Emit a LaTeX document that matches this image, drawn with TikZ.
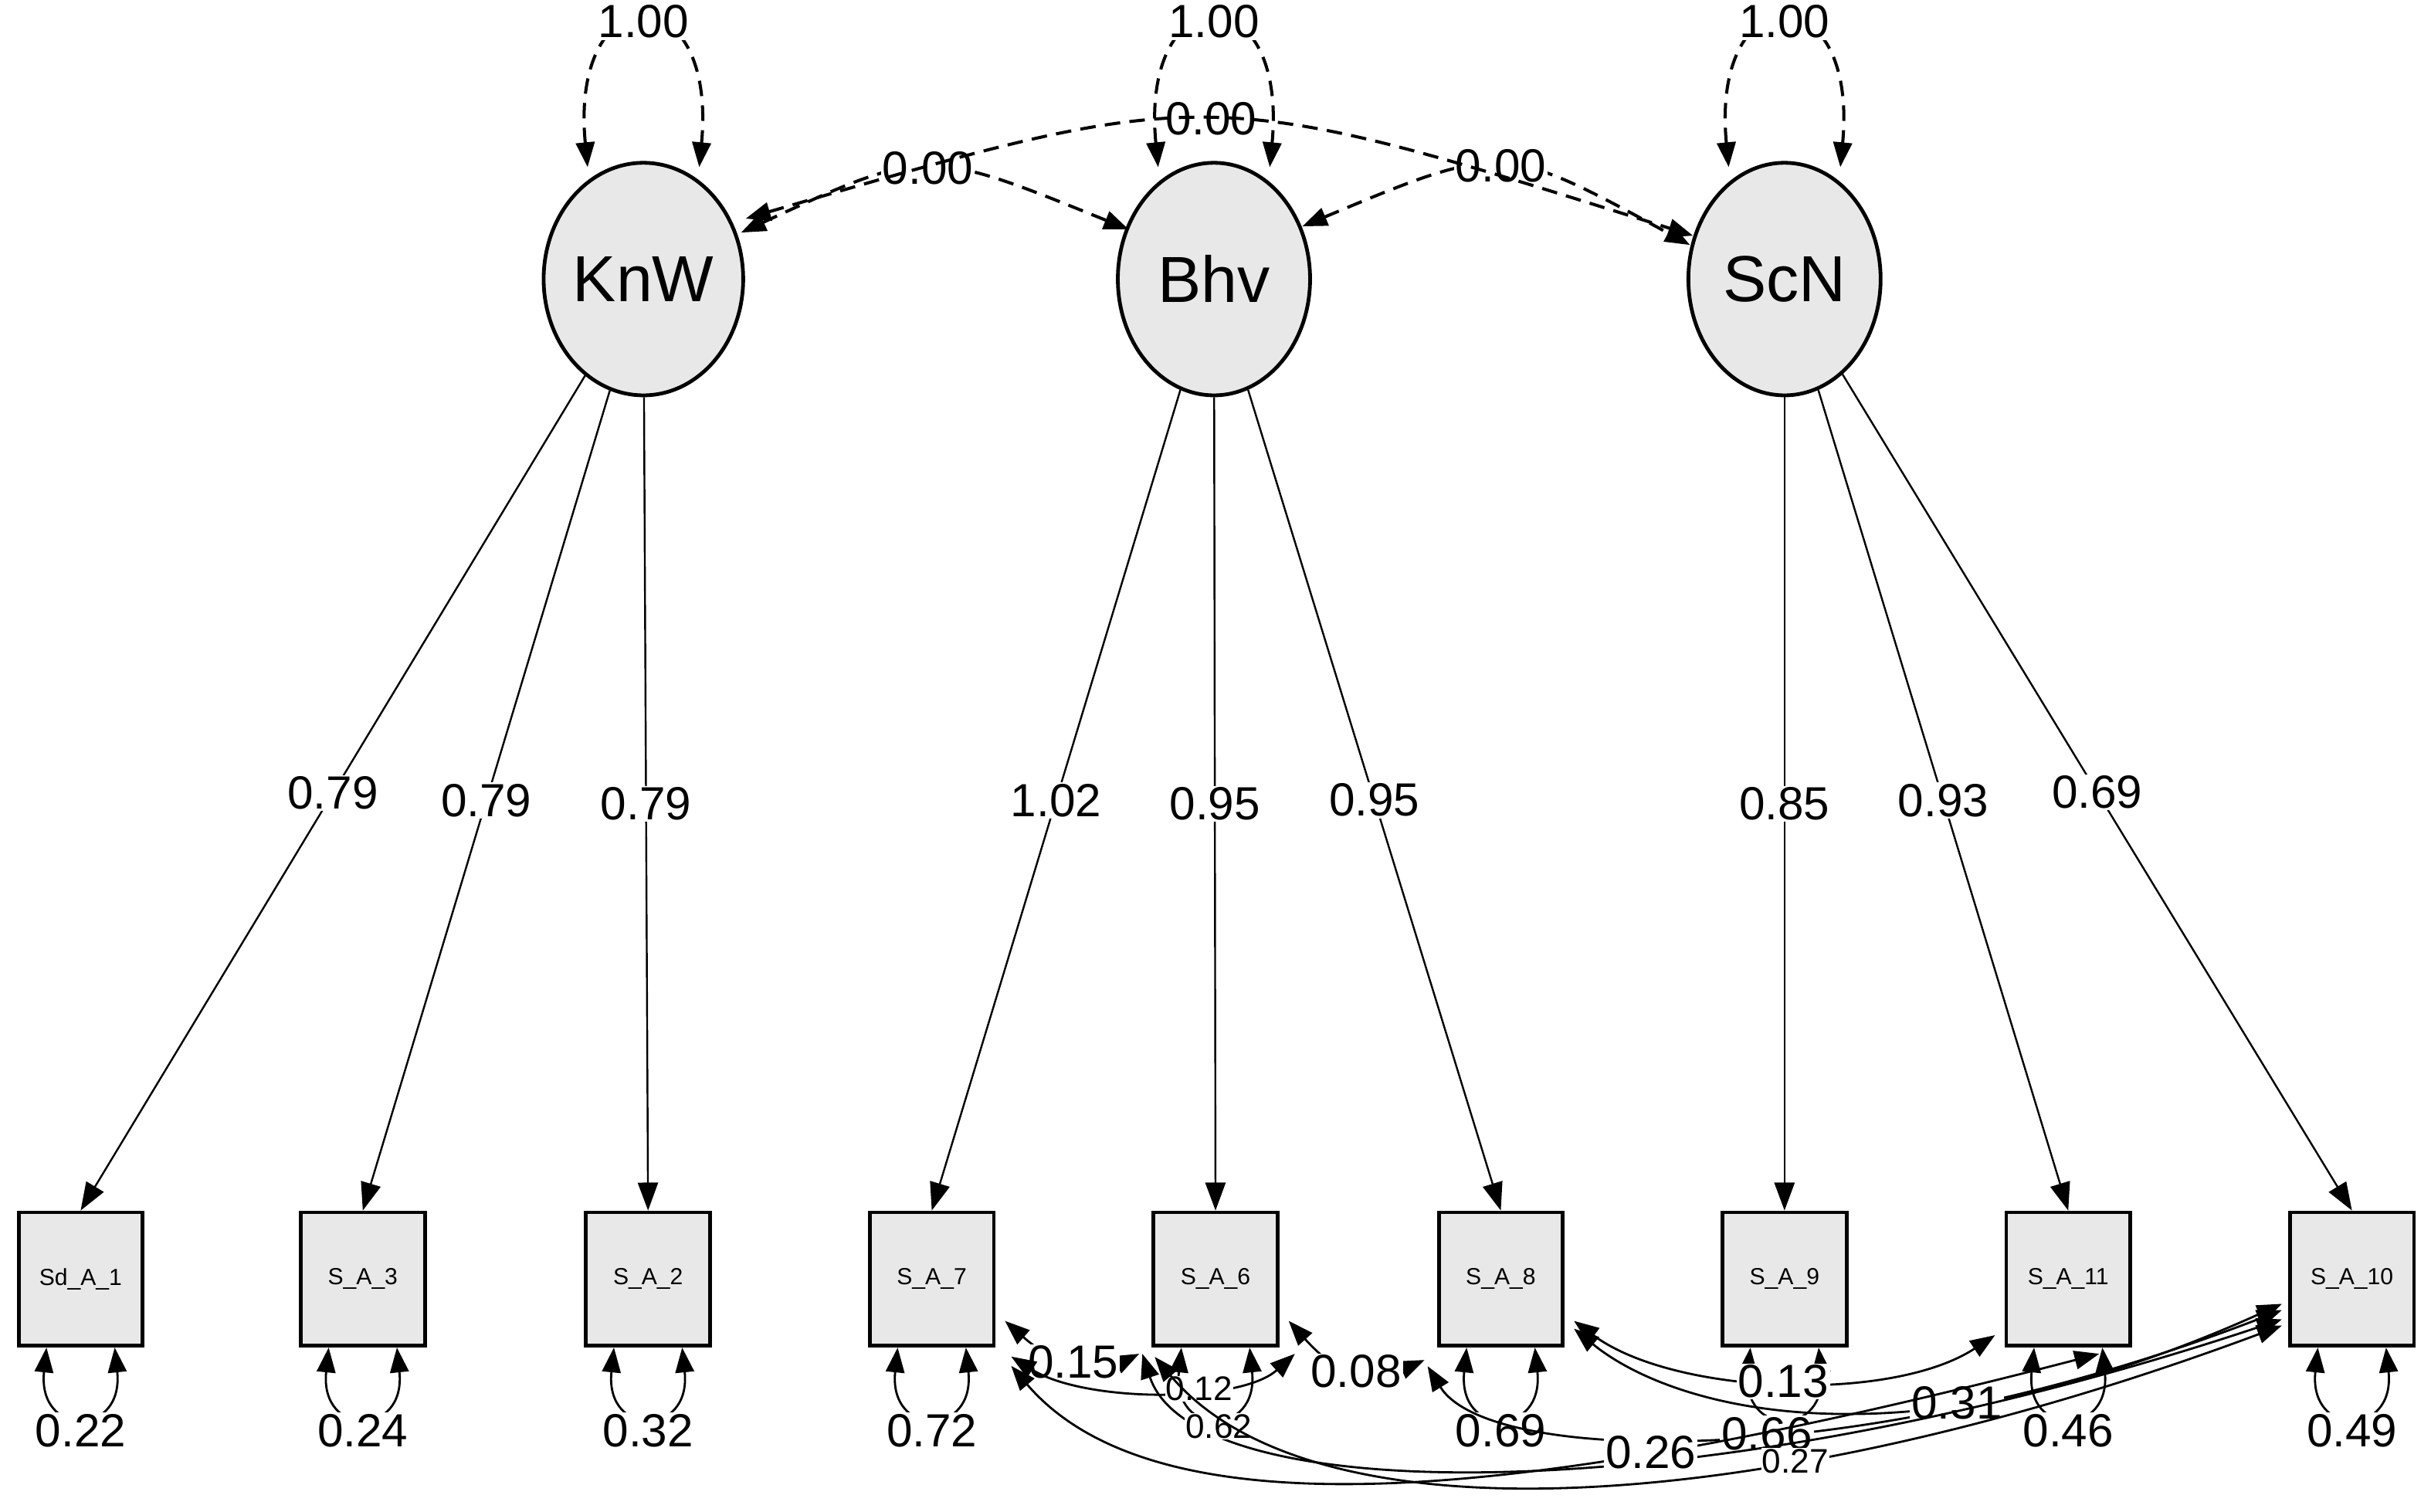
\documentclass[tikz,border=0pt]{standalone}
\usepackage{fontspec}
\setmainfont{Liberation Sans}
\usetikzlibrary{arrows.meta,calc,shapes.geometric}
\begin{document}
\begin{tikzpicture}[x=0.5pt,y=-0.5pt,
  lat/.style={ellipse,draw,line width=1.2pt,fill=black!9,minimum width=62pt,minimum height=75pt,inner sep=0pt,font=\fontsize{21}{24}\selectfont},
  obs/.style={rectangle,draw,line width=1.2pt,fill=black!9,minimum width=40pt,minimum height=43pt,inner sep=0pt,font=\fontsize{7.5}{8}\selectfont},
  tip/.style={-{Triangle[length=9pt,width=6.5pt]}},
  load/.style={tip,line width=0.6pt},
  cov/.style={{Triangle[length=8pt,width=6pt]}-{Triangle[length=8pt,width=6pt]},line width=0.7pt},
  dcov/.style={cov,dashed,dash pattern=on 5pt off 3pt,line width=1pt},
  lab/.style={fill=white,inner sep=0.5pt,font=\fontsize{15}{16}\selectfont},
  slab/.style={fill=white,inner sep=0.3pt,font=\fontsize{11}{12}\selectfont}]
\useasboundingbox (0,0) rectangle (1568,975);
% latents
\node[lat] (K) at (415,180) {KnW};
\node[lat] (B) at (783,180) {Bhv};
\node[lat] (S) at (1151,180) {ScN};
% observed
\foreach \n/\x/\t in {o1/52/Sd\_A\_1,o3/234/S\_A\_3,o2/418/S\_A\_2,o7/601/S\_A\_7,o6/784/S\_A\_6,o8/968/S\_A\_8,o9/1151/S\_A\_9,o11/1334/S\_A\_11,o10/1517/S\_A\_10}
  \node[obs] (\n) at (\x,825) {\t};
% latent variances
\foreach \L in {K,B,S}{
  \coordinate (\L a) at ($(\L.north)+(-36,4)$);
  \coordinate (\L b) at ($(\L.north)+(36,4)$);
  \draw[dcov] (\L a) .. controls ($(\L a)+(-12,-125)$) and ($(\L b)+(12,-125)$) .. (\L b)
    node[pos=0.5,lab]{1.00};
}
% latent covariances
\coordinate (m1) at (600,122);
\coordinate (m2) at (967,122);
\coordinate (m3) at (783,100);
\coordinate (k1) at (478,150); \coordinate (b1) at (728,148);
\coordinate (k2) at (481,141); \coordinate (s2) at (1092,152);
\coordinate (b3) at (840,146); \coordinate (s3) at (1090,158);
\draw[dcov] (k1) .. controls ($2*(m1)-0.5*(k1)-0.5*(b1)$) .. (b1) node[pos=0.5,lab]{0.00};
\draw[dcov] (b3) .. controls ($2*(m2)-0.5*(b3)-0.5*(s3)$) .. (s3) node[pos=0.5,lab]{0.00};
\draw[dcov] (k2) .. controls ($2*(m3)-0.5*(k2)-0.5*(s2)$) .. (s2) node[pos=0.5,lab,inner sep=0pt,fill=none]{0.00};
% loadings
\draw[load] (K) -- (o1.north) node[pos=0.5,lab]{0.79};
\draw[load] (K) -- (o3.north) node[pos=0.5,lab]{0.79};
\draw[load] (K) -- (o2.north) node[pos=0.5,lab]{0.79};
\draw[load] (B) -- (o7.north) node[pos=0.5,lab]{1.02};
\draw[load] (B) -- (o6.north) node[pos=0.5,lab]{0.95};
\draw[load] (B) -- (o8.north) node[pos=0.5,lab]{0.95};
\draw[load] (S) -- (o9.north) node[pos=0.5,lab]{0.85};
\draw[load] (S) -- (o11.north) node[pos=0.5,lab]{0.93};
\draw[load] (S) -- (o10.north) node[pos=0.5,lab]{0.69};
% residual variances
\foreach \n/\v in {o1/0.22,o3/0.24,o2/0.32,o7/0.72,o6/{},o8/0.69,o9/{},o11/0.46,o10/0.49}{
  \coordinate (\n a) at ($(\n.south)+(-22,0)$);
  \coordinate (\n b) at ($(\n.south)+(22,0)$);
  \draw[cov] (\n a) .. controls ($(\n a)+(-6,58)$) and ($(\n b)+(6,58)$) .. (\n b)
    node[pos=0.5,lab,yshift=-5pt]{\v};
}
% residual covariances
\coordinate (a1) at ($(o7.east)+(6,27)$);  \coordinate (a2) at ($(o6.south west)+(-8,4)$);
\draw[cov] (a1) .. controls (680,880) and (705,888) .. (a2) node[pos=0.5,lab]{0.15};
\coordinate (b1) at ($(o7.east)+(10,50)$); \coordinate (b2) at ($(o6.south east)+(10,4)$);
\draw[cov] (b1) .. controls (700,905) and (800,905) .. (b2) node[pos=0.62,slab]{0.12};
\coordinate (c1) at ($(o6.east)+(6,27)$);  \coordinate (c2) at ($(o8.south west)+(-8,8)$);
\draw[cov] (c1) .. controls (870,895) and (890,890) .. (c2) node[pos=0.45,lab]{0.08};
\coordinate (d1) at ($(o8.east)+(6,27)$);  \coordinate (d2) at ($(o11.south west)+(-6,-8)$);
\draw[cov] (d1) .. controls (1080,900) and (1220,905) .. (d2) node[pos=0.5,lab]{0.13};
\coordinate (e1) at ($(o8.south west)+(-6,12)$); \coordinate (e2) at ($(o10.west)+(-4,20)$);
\draw[cov] (e1) .. controls (960,945) and (1200,950) .. (e2) node[pos=0.55,lab]{0.66};
\coordinate (f1) at ($(o8.east)+(6,32)$);  \coordinate (f2) at ($(o10.west)+(-4,16)$);
\draw[cov] (f1) .. controls (1080,910) and (1230,950) .. (f2) node[pos=0.67,lab]{0.31};
\coordinate (g1) at ($(o6.south west)+(-6,4)$); \coordinate (g2) at ($(o10.west)+(-4,26)$);
\draw[cov] (g1) .. controls (770,975) and (1100,975) .. (g2) node[pos=0.19,slab]{0.62};
\coordinate (h1) at ($(o7.east)+(10,56)$); \coordinate (h2) at ($(o11.south)+(20,4)$);
\draw[cov] (h1) .. controls (750,995) and (1000,965) .. (h2) node[pos=0.7,lab]{0.26};
\coordinate (i1) at ($(o6.south west)+(2,6)$); \coordinate (i2) at ($(o10.west)+(-4,30)$);
\draw[cov] (i1) .. controls (850,1000) and (1150,975) .. (i2) node[pos=0.66,slab]{0.27};
\end{tikzpicture}
\end{document}
